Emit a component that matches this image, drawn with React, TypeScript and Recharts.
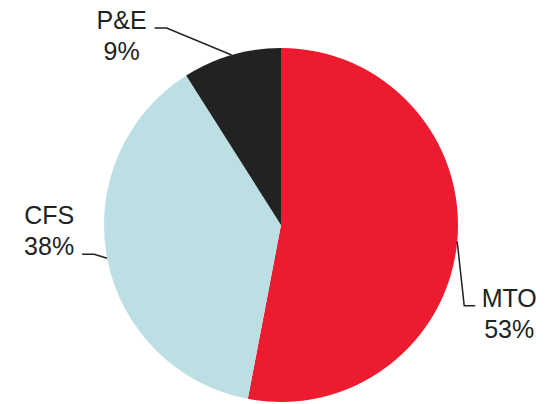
import { Pie, PieChart, Cell } from "recharts";

const segments = ["MTO", "CFS", "P&E"];
const shares = [53, 38, 9];
const colors = ["#ED1B2F", "#BBDFE3", "#222222"];

// leader line shape per label: elbow offset from the slice edge, tail length, text line the tail points at
const leaders: Record<string, { dx: number; dy: number; tail: number; line: 0 | 1 }> = {
  MTO: { dx: 7, dy: 64, tail: 11, line: 0 },
  CFS: { dx: -13, dy: -4, tail: -12, line: 1 },
  "P&E": { dx: -65, dy: -27, tail: -12, line: 0 },
};

const data = segments.map((name, i) => ({ name, value: shares[i] }));

const RAD = Math.PI / 180;
const LINE_GAP = 31;

function SliceLabel(props: any) {
  const { cx, cy, midAngle, outerRadius, name, value } = props;
  const cfg = leaders[name];
  const sx = cx + outerRadius * Math.cos(-midAngle * RAD);
  const sy = cy + outerRadius * Math.sin(-midAngle * RAD);
  const ex = sx + cfg.dx;
  const ey = sy + cfg.dy;
  const tx = ex + cfg.tail;
  const textX = tx + (cfg.tail > 0 ? 34 : -33);
  const firstBaseline = ey + 1 - cfg.line * LINE_GAP;
  return (
    <g>
      <polyline
        points={`${sx},${sy} ${ex},${ey} ${tx},${ey}`}
        fill="none"
        stroke="#222"
        strokeWidth={1.5}
      />
      <text
        x={textX}
        y={firstBaseline}
        textAnchor="middle"
        fill="#222"
        fontSize={25}
        fontFamily="'Liberation Sans', Arial, sans-serif"
      >
        <tspan x={textX} y={firstBaseline}>
          {name}
        </tspan>
        <tspan x={textX} y={firstBaseline + LINE_GAP}>
          {`${value}%`}
        </tspan>
      </text>
    </g>
  );
}

export default function App() {
  return (
    <div style={{ position: "fixed", left: 0, top: 0, background: "#fff" }}>
      <PieChart width={547} height={404} margin={{ top: 0, right: 0, bottom: 0, left: 0 }}>
        <Pie
          data={data}
          dataKey="value"
          nameKey="name"
          cx={281}
          cy={225}
          outerRadius={177}
          startAngle={90}
          endAngle={-270}
          stroke="none"
          label={SliceLabel}
          labelLine={false}
          isAnimationActive={false}
        >
          {data.map((d, i) => (
            <Cell key={d.name} fill={colors[i]} />
          ))}
        </Pie>
      </PieChart>
    </div>
  );
}
